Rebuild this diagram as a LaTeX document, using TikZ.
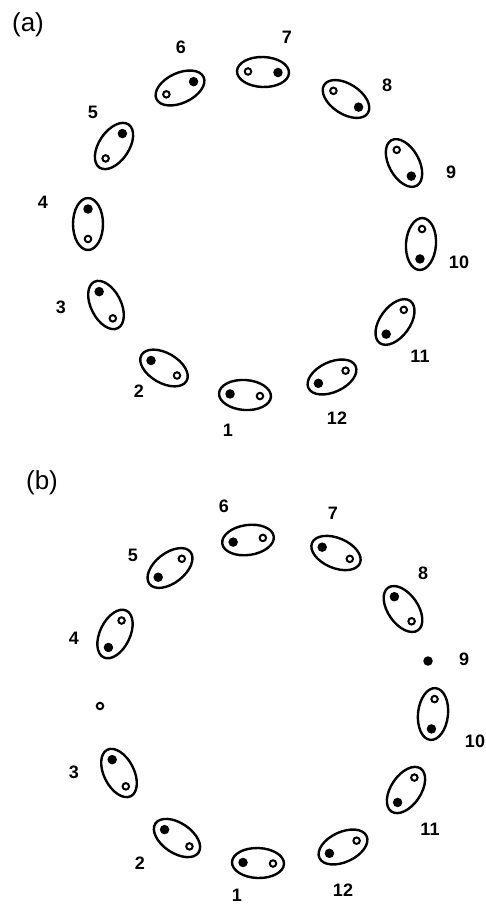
\documentclass[tikz,border=0pt]{standalone}
\usepackage{fontspec}
\setmainfont{Liberation Sans}
\usetikzlibrary{shapes.geometric,calc}
\tikzset{
  pairell/.style={draw, ellipse, line width=2.4pt, minimum width=52pt, minimum height=30pt, inner sep=0pt},
  fdot/.style={circle, fill=black, minimum size=9.5pt, inner sep=0pt},
  odot/.style={circle, draw=black, line width=2pt, minimum size=6.5pt, inner sep=0pt},
  lab/.style={font=\fontsize{18}{18}\selectfont\bfseries, inner sep=0pt},
  panel/.style={font=\fontsize{26}{26}\selectfont, inner sep=0pt}
}
\newcommand\mypair[4]{%
  \node[pairell, rotate=#4] (#1) at (#2,#3) {};
  \node[fdot] (#1f) at ($(#1.center)+(#4:15)$) {};
  \node[odot] (#1o) at ($(#1.center)+({#4+180}:15)$) {};
}
\begin{document}
\begin{tikzpicture}[x=1pt,y=1pt]
\useasboundingbox (0,0) rectangle (485,-904);
% ---------- panel (a)
\node[panel] (pa) at (28,-25) {(a)};
\mypair{a1}{245}{-395}{176}
\mypair{a2}{164}{-368}{150}
\mypair{a3}{106}{-305}{117}
\mypair{a4}{88}{-224}{90}
\mypair{a5}{114}{-146}{56}
\mypair{a6}{180}{-88}{25}
\mypair{a7}{263}{-72}{-2}
\mypair{a8}{346}{-99}{-33}
\mypair{a9}{404}{-163}{-61}
\mypair{a10}{421}{-244}{-94}
\mypair{a11}{395}{-322}{-126}
\mypair{a12}{332}{-377}{-155}
\node[lab] (la1) at (228,-430) {1};
\node[lab] (la2) at (139,-391) {2};
\node[lab] (la3) at (61,-307) {3};
\node[lab] (la4) at (43,-202) {4};
\node[lab] (la5) at (93,-112) {5};
\node[lab] (la6) at (181,-47) {6};
\node[lab] (la7) at (287,-37) {7};
\node[lab] (la8) at (387,-85) {8};
\node[lab] (la9) at (451,-172) {9};
\node[lab] (la10) at (459,-262) {10};
\node[lab] (la11) at (420,-356) {11};
\node[lab] (la12) at (337,-418) {12};
% ---------- panel (b)
\node[panel] (pb) at (42,-483) {(b)};
\mypair{b1}{258}{-863}{178}
\mypair{b2}{177}{-838}{146}
\mypair{b3}{119}{-773}{117}
\mypair{b4}{115}{-634}{244}
\mypair{b5}{170}{-568}{218}
\mypair{b6}{248}{-540}{188}
\mypair{b7}{336}{-553}{157}
\mypair{b8}{403}{-609}{125}
\mypair{b10}{433}{-714}{264}
\mypair{b11}{406}{-790}{236}
\mypair{b12}{343}{-847}{205}
\node[odot] (bso) at (100,-706) {};
\node[fdot] (bsf) at (428,-661) {};
\node[lab] (lb1) at (237,-895) {1};
\node[lab] (lb2) at (140,-863) {2};
\node[lab] (lb3) at (74,-772) {3};
\node[lab] (lb4) at (74,-638) {4};
\node[lab] (lb5) at (133,-555) {5};
\node[lab] (lb6) at (224,-506) {6};
\node[lab] (lb7) at (333,-513) {7};
\node[lab] (lb8) at (423,-573) {8};
\node[lab] (lb9) at (464,-659) {9};
\node[lab] (lb10) at (475,-741) {10};
\node[lab] (lb11) at (430,-829) {11};
\node[lab] (lb12) at (343,-890) {12};
\end{tikzpicture}
\end{document}
